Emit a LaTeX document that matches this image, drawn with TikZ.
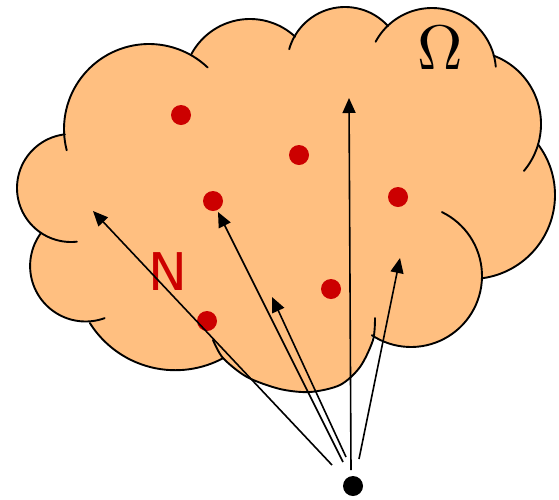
\documentclass[tikz,border=0pt]{standalone}
\usepackage{fontspec}
\usetikzlibrary{arrows.meta}
\definecolor{cloudfill}{RGB}{255,191,128}
\definecolor{dotred}{RGB}{204,0,0}
\begin{document}
\begin{tikzpicture}[x=1pt,y=-1pt,
  outline/.style={line width=1.9pt, line cap=round, line join=round},
  reddot/.style={circle, fill=dotred, inner sep=0pt, minimum size=20pt},
  srcdot/.style={circle, fill=black, inner sep=0pt, minimum size=20pt},
  ray/.style={line width=1.6pt, -{Triangle[length=15pt,width=13pt]}},
  arcplot/.style={samples=50, variable=\t},
]
\useasboundingbox (0,0) rectangle (559,499);
% cloud fill
\fill[cloudfill] (64.2,134.9)
  -- plot[arcplot, domain=184:60.8] ({149+85*cos(\t)},{129-85*sin(\t)})
  -- plot[arcplot, domain=151.9:47.1] ({250+66.5*cos(\t)},{85.5-66.5*sin(\t)})
  -- plot[arcplot, domain=150.8:42.1] ({345+58*cos(\t)},{65-58*sin(\t)})
  -- plot[arcplot, domain=135:13.8] ({432+64*cos(\t)},{72-64*sin(\t)})
  -- plot[arcplot, domain=69.5:-16.9] ({468+73*cos(\t)},{124-73*sin(\t)})
  -- plot[arcplot, domain=37.1:-82.5] ({471+84*cos(\t)},{195-84*sin(\t)})
  -- plot[arcplot, domain=-2:-123.5] ({411+71*cos(\t)},{276-71*sin(\t)})
  -- plot[smooth] coordinates {(372,335) (370,348) (360,367) (340,385) (310,392) (280,389) (247,377) (223,358)}
  -- plot[arcplot, domain=298.2:212.2] ({175.3+101*cos(\t)},{269.2-101*sin(\t)})
  -- plot[arcplot, domain=274.4:143.5] ({85.6+55.5*cos(\t)},{266-55.5*sin(\t)})
  -- plot[arcplot, domain=236.3:96.5] ({71+54*cos(\t)},{188-54*sin(\t)})
  -- cycle;
% cloud outline bumps
\draw[outline] plot[arcplot, domain=46.4:194.5] ({149+85*cos(\t)},{129-85*sin(\t)});
\draw[outline] plot[arcplot, domain=47.1:151.9] ({250+66.5*cos(\t)},{85.5-66.5*sin(\t)});
\draw[outline] plot[arcplot, domain=42.1:164.2] ({345+58*cos(\t)},{65-58*sin(\t)});
\draw[outline] plot[arcplot, domain=4.7:151.8] ({432+64*cos(\t)},{72-64*sin(\t)});
\draw[outline] plot[arcplot, domain=-40:69.5] ({468+73*cos(\t)},{124-73*sin(\t)});
\draw[outline] plot[arcplot, domain=-82.5:37.1] ({471+84*cos(\t)},{195-84*sin(\t)});
\draw[outline] plot[arcplot, domain=-123.5:64.2] ({411+71*cos(\t)},{276-71*sin(\t)});
\draw[outline] plot[smooth] coordinates {(375,318) (373,340) (360,367) (340,385) (310,392) (280,389) (247,377) (223,358) (213,340)};
\draw[outline] plot[arcplot, domain=212.2:298.2] ({175.3+101*cos(\t)},{269.2-101*sin(\t)});
\draw[outline] plot[arcplot, domain=143.5:290.1] ({85.6+55.5*cos(\t)},{266-55.5*sin(\t)});
\draw[outline] plot[arcplot, domain=96.5:276.3] ({71+54*cos(\t)},{188-54*sin(\t)});
% labels
\node[inner sep=0pt, scale=6.3] (omega) at (440,48) {$\Omega$};
\node[inner sep=0pt, text=dotred] (nlabel) at (168,272) {\fontspec{DejaVu Sans}\fontsize{52}{52}\selectfont N};
% dots
\node[reddot] (d1) at (181,115) {};
\node[reddot] (d2) at (299,155) {};
\node[reddot] (d3) at (213,201) {};
\node[reddot] (d4) at (398,197) {};
\node[reddot] (d5) at (331,289) {};
\node[reddot] (d6) at (207,321) {};
\node[srcdot] (src) at (353,486) {};
% arrow ends
\coordinate (s1) at (332,465); \coordinate (t1) at (93,211);
\coordinate (s2) at (343,462); \coordinate (t2) at (218,212);
\coordinate (s3) at (346,457); \coordinate (t3) at (272,297);
\coordinate (s4) at (351,470); \coordinate (t4) at (349,98);
\coordinate (s5) at (359,459); \coordinate (t5) at (400,258);
\draw[ray] (s1) -- (t1);
\draw[ray] (s2) -- (t2);
\draw[ray] (s3) -- (t3);
\draw[ray] (s4) -- (t4);
\draw[ray] (s5) -- (t5);
\end{tikzpicture}
\end{document}
